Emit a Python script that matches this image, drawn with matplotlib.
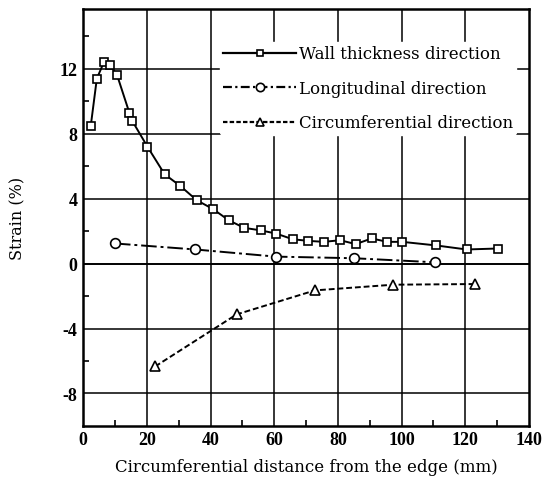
import matplotlib
matplotlib.use("Agg")
import matplotlib.pyplot as plt
from matplotlib.lines import Line2D

plt.rcParams['font.family'] = ['Liberation Serif', 'DejaVu Serif']

# Data
wall_x = [2.4, 4.3, 6.5, 8.3, 10.6, 14.5, 15.4, 20.2, 25.6, 30.4, 35.7, 40.7, 45.8, 50.6,
          55.7, 60.6, 65.8, 70.7, 75.6, 80.7, 85.6, 90.6, 95.5, 100.2, 110.8, 120.4, 130.3]
wall_y = [8.5, 11.4, 12.4, 12.25, 11.65, 9.3, 8.8, 7.2, 5.5, 4.8, 3.9, 3.37, 2.66, 2.2,
          2.05, 1.85, 1.5, 1.4, 1.34, 1.44, 1.2, 1.55, 1.34, 1.34, 1.12, 0.87, 0.93]
long_x = [10.0, 35.2, 60.5, 85.1, 110.5]
long_y = [1.24, 0.87, 0.43, 0.33, 0.08]
circ_x = [22.6, 48.2, 72.8, 97.4, 123.0]
circ_y = [-6.34, -3.13, -1.65, -1.3, -1.26]

xticks = [0, 20, 40, 60, 80, 100, 120, 140]
yticks = [-8, -4, 0, 4, 8, 12]
ytick_labels = ['-8', '-4', '0', '4', '8', '12']
labels = ['Wall thickness direction', 'Longitudinal direction', 'Circumferential direction']

fig = plt.figure(figsize=(5.47, 4.89), dpi=100)
ax = fig.add_axes([0.152, 0.127, 0.815, 0.853])

ax.set_xlim(0, 140)
ax.set_ylim(-10, 15.7)

for x in xticks[1:-1]:
    ax.axvline(x, color='black', lw=1.1, zorder=1)
for y in yticks:
    ax.axhline(y, color='black', lw=1.4 if y == 0 else 1.1, zorder=1)

ax.plot(wall_x, wall_y, '-', color='black', lw=1.4, marker='s', ms=6,
        mfc='white', mec='black', mew=1.2, zorder=3)
ax.plot(long_x, long_y, linestyle=(0, (8, 2, 1.5, 2)), color='black', lw=1.4, marker='o', ms=7,
        mfc='white', mec='black', mew=1.2, zorder=3)
ax.plot(circ_x, circ_y, linestyle=(0, (3, 1.5)), color='black', lw=1.4, marker='^', ms=7,
        mfc='white', mec='black', mew=1.2, zorder=3)

handles = [
    Line2D([], [], color='black', lw=1.6, marker='s', ms=5, mfc='white', mew=1.2),
    Line2D([], [], color='black', lw=1.6, linestyle=(0, (4, 1.5, 1, 1.5)), marker='o', ms=6, mfc='white', mew=1.2),
    Line2D([], [], color='black', lw=1.6, linestyle=(0, (2, 1)), marker='^', ms=6, mfc='white', mew=1.2),
]
leg = ax.legend(handles, labels, loc='upper right', bbox_to_anchor=(0.99, 0.94),
                frameon=True, prop={'family': 'DejaVu Serif', 'size': 12},
                handlelength=4.4, handletextpad=0.15,
                labelspacing=1.05, borderpad=0.2, numpoints=1)
leg.get_frame().set_edgecolor('white')
leg.get_frame().set_facecolor('white')
leg.get_frame().set_alpha(1)
leg.set_zorder(5)

ax.set_xticks(xticks)
ax.set_xticklabels([str(t) for t in xticks], fontsize=13, fontweight='bold')
ax.set_yticks(yticks)
ax.set_yticklabels(ytick_labels, fontsize=13, fontweight='bold')
ax.set_yticks([-6, -2, 2, 6, 10, 14], minor=True)
ax.set_xticks([10, 30, 50, 70, 90, 110, 130], minor=True)
ax.tick_params(which='both', direction='in', length=4, width=1.2)
ax.tick_params(which='major', length=0, pad=4)

for s in ax.spines.values():
    s.set_linewidth(1.8)

ax.set_xlabel('Circumferential distance from the edge (mm)', fontsize=12,
              family='DejaVu Serif', labelpad=7)
ax.set_ylabel('Strain (%)', fontsize=11.5, family='DejaVu Serif', labelpad=24)

fig.savefig('out.png', dpi=100)
